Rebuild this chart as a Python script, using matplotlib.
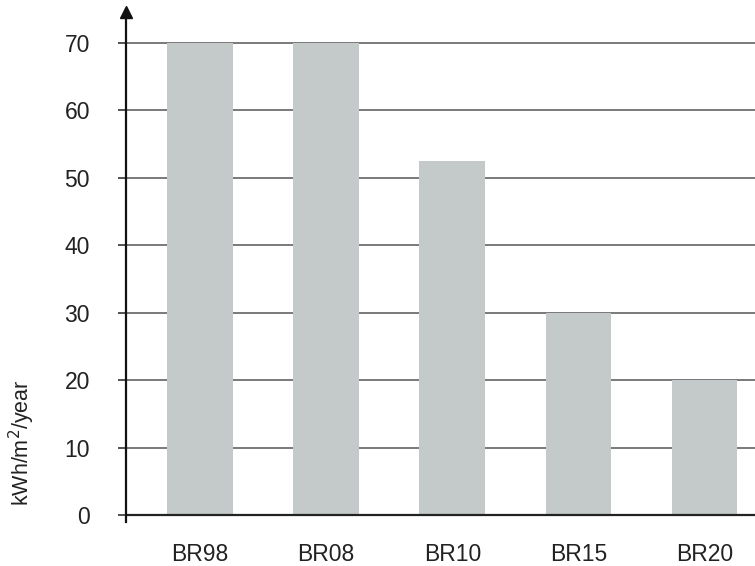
import matplotlib
matplotlib.use("Agg")
import matplotlib.pyplot as plt

categories = ["BR98", "BR08", "BR10", "BR15", "BR20"]
values = [70, 70, 52.5, 30, 20]
yticks = [0, 10, 20, 30, 40, 50, 60, 70]
ylabel = "kWh/m$^2$/year"

plt.rcParams['font.family'] = ['Liberation Sans', 'DejaVu Sans']

fig = plt.figure(figsize=(7.55, 5.66), dpi=100)
ax = fig.add_axes([126/755, 0.078, 1 - 126/755, 0.979 - 0.078])

xs = list(range(len(categories)))
ax.bar(xs, values, width=0.52, color="#c4c9ca", zorder=3)

ax.set_xlim(-0.587, 4.40)
ax.set_ylim(-1, 74.6)

ax.set_yticks(yticks)
ax.set_yticklabels([str(t) for t in yticks], fontsize=16.5, color="#222222")
ax.set_xticks(xs)
ax.set_xticklabels(categories, fontsize=16.5, color="#222222")

ax.tick_params(axis='y', direction='out', length=6, width=1.2, color="#333333", pad=20)
ax.tick_params(axis='x', length=0, pad=15)

for t in yticks:
    ax.axhline(t, color="#222222" if t == 0 else "#555555",
               linewidth=1.6 if t == 0 else 1.1, zorder=2 if t else 4)

for s in ["top", "right", "bottom"]:
    ax.spines[s].set_visible(False)
ax.spines["left"].set_color("#111111")
ax.spines["left"].set_linewidth(1.6)
ax.spines["left"].set_zorder(5)
ax.plot([0], [1], marker="^", markersize=8, color="#111111",
        transform=ax.transAxes, clip_on=False, zorder=6)

ax.set_ylabel(ylabel, fontsize=15.5, color="#222222")
ax.yaxis.set_label_coords(-0.142, 0.155)

fig.savefig("out.png", dpi=100)
